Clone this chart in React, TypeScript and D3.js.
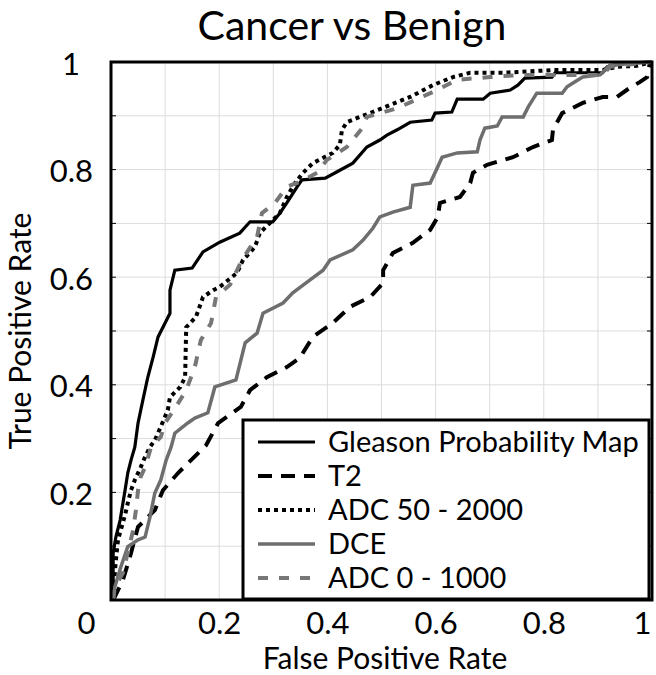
import React, { useEffect, useRef } from 'react';
import * as d3 from 'd3';

// ROC curves, [false positive rate, true positive rate]
const gleason: [number, number][] = [
  [0.002, 0], [0.004, 0.037], [0.004, 0.087], [0.009, 0.117], [0.017, 0.149], [0.022, 0.18],
  [0.026, 0.204], [0.031, 0.236], [0.037, 0.26], [0.044, 0.284], [0.05, 0.329], [0.059, 0.372],
  [0.068, 0.414], [0.078, 0.452], [0.087, 0.489], [0.1, 0.515], [0.109, 0.533], [0.109, 0.576],
  [0.118, 0.613], [0.15, 0.617], [0.17, 0.647], [0.201, 0.665], [0.238, 0.682], [0.257, 0.703],
  [0.299, 0.703], [0.312, 0.719], [0.325, 0.738], [0.344, 0.768], [0.353, 0.781], [0.396, 0.784],
  [0.418, 0.796], [0.447, 0.812], [0.473, 0.842], [0.497, 0.855], [0.51, 0.864], [0.529, 0.874],
  [0.553, 0.888], [0.593, 0.892], [0.599, 0.905], [0.63, 0.907], [0.64, 0.931], [0.688, 0.931],
  [0.701, 0.942], [0.738, 0.948], [0.752, 0.957], [0.765, 0.97], [0.815, 0.972], [0.821, 0.98],
  [0.909, 0.98], [0.917, 0.991], [0.946, 0.998], [1, 1]
];

const t2: [number, number][] = [
  [0.004, 0], [0.007, 0.006], [0.022, 0.037], [0.035, 0.08], [0.05, 0.136], [0.081, 0.167],
  [0.096, 0.204], [0.124, 0.236], [0.148, 0.26], [0.176, 0.288], [0.198, 0.329], [0.24, 0.359],
  [0.257, 0.39], [0.288, 0.414], [0.325, 0.433], [0.349, 0.45], [0.373, 0.489], [0.41, 0.515],
  [0.442, 0.545], [0.479, 0.563], [0.503, 0.589], [0.503, 0.613], [0.521, 0.645], [0.558, 0.664],
  [0.59, 0.688], [0.604, 0.712], [0.608, 0.738], [0.645, 0.749], [0.664, 0.775], [0.669, 0.794],
  [0.695, 0.809], [0.743, 0.823], [0.78, 0.842], [0.815, 0.855], [0.817, 0.874], [0.834, 0.905],
  [0.872, 0.924], [0.909, 0.935], [0.935, 0.935], [0.959, 0.952], [0.978, 0.963], [0.991, 0.972],
  [0.996, 0.998], [1, 1]
];

const adc50: [number, number][] = [
  [0.002, 0], [0.004, 0.013], [0.009, 0.074], [0.013, 0.112], [0.026, 0.158], [0.031, 0.18],
  [0.037, 0.204], [0.044, 0.223], [0.055, 0.247], [0.063, 0.266], [0.072, 0.284], [0.081, 0.297],
  [0.092, 0.322], [0.105, 0.353], [0.109, 0.377], [0.128, 0.396], [0.137, 0.414], [0.139, 0.507],
  [0.157, 0.526], [0.17, 0.563], [0.189, 0.576], [0.201, 0.582], [0.233, 0.608], [0.244, 0.632],
  [0.266, 0.656], [0.275, 0.682], [0.294, 0.701], [0.312, 0.719], [0.325, 0.749], [0.34, 0.775],
  [0.355, 0.794], [0.373, 0.812], [0.41, 0.831], [0.423, 0.846], [0.427, 0.874], [0.436, 0.888],
  [0.455, 0.896], [0.479, 0.905], [0.516, 0.92], [0.553, 0.935], [0.595, 0.957], [0.632, 0.972],
  [0.664, 0.98], [0.725, 0.98], [0.817, 0.985], [0.909, 0.985], [0.935, 0.991], [0.972, 0.993],
  [1, 1]
];

const dce: [number, number][] = [
  [0.004, 0], [0.007, 0.024], [0.018, 0.061], [0.031, 0.099], [0.05, 0.112], [0.063, 0.117],
  [0.072, 0.154], [0.081, 0.199], [0.092, 0.223], [0.102, 0.26], [0.111, 0.284], [0.118, 0.31],
  [0.142, 0.329], [0.155, 0.338], [0.179, 0.348], [0.192, 0.396], [0.231, 0.409], [0.248, 0.478],
  [0.27, 0.496], [0.281, 0.533], [0.318, 0.552], [0.336, 0.571], [0.368, 0.595], [0.392, 0.613],
  [0.405, 0.632], [0.447, 0.651], [0.466, 0.669], [0.484, 0.691], [0.497, 0.712], [0.521, 0.721],
  [0.553, 0.73], [0.558, 0.771], [0.59, 0.775], [0.603, 0.803], [0.612, 0.823], [0.64, 0.831],
  [0.677, 0.833], [0.682, 0.855], [0.691, 0.877], [0.714, 0.881], [0.723, 0.898], [0.762, 0.898],
  [0.771, 0.916], [0.787, 0.942], [0.834, 0.942], [0.843, 0.954], [0.854, 0.961], [0.872, 0.972],
  [0.904, 0.976], [0.922, 0.994], [1, 1]
];

const adc0: [number, number][] = [
  [0.004, 0], [0.007, 0.024], [0.022, 0.05], [0.041, 0.13], [0.046, 0.167], [0.05, 0.204],
  [0.055, 0.229], [0.063, 0.247], [0.074, 0.284], [0.092, 0.303], [0.1, 0.329], [0.12, 0.359],
  [0.139, 0.39], [0.155, 0.433], [0.166, 0.483], [0.185, 0.515], [0.194, 0.563], [0.22, 0.586],
  [0.242, 0.632], [0.27, 0.675], [0.279, 0.719], [0.303, 0.738], [0.325, 0.768], [0.349, 0.777],
  [0.381, 0.794], [0.399, 0.818], [0.436, 0.842], [0.466, 0.879], [0.473, 0.898], [0.497, 0.905],
  [0.529, 0.914], [0.603, 0.948], [0.64, 0.967], [0.701, 0.972], [0.756, 0.976], [0.909, 0.976],
  [0.922, 0.991], [1, 1]
];

const seriesNames = ['Gleason Probability Map', 'T2', 'ADC 50 - 2000', 'DCE', 'ADC 0 - 1000'];
const seriesData = [gleason, t2, adc50, dce, adc0];
const seriesColors = ['#000', '#000', '#000', '#6e6e6e', '#777'];
const seriesDash = ['none', '14 9', '4 4', 'none', '10 11'];
const seriesWidth = [3.2, 4, 4, 3.5, 4];

const xTicks = [0, 0.2, 0.4, 0.6, 0.8, 1];
const yTicks = [0.2, 0.4, 0.6, 0.8, 1];
const gridTicks = d3.range(0, 1.01, 0.1);

const FONT = 'Lato, "Open Sans", sans-serif';

export default function App() {
  const ref = useRef<SVGSVGElement>(null);

  useEffect(() => {
    const width = 656;
    const height = 675;
    const left = 111, right = 652, top = 62, bottom = 600;

    const svg = d3.select(ref.current);
    svg.selectAll('*').remove();
    svg.attr('width', width).attr('height', height);

    const x = d3.scaleLinear().domain([0, 1]).range([left, right]);
    const y = d3.scaleLinear().domain([0, 1]).range([bottom, top]);

    svg.append('rect').attr('width', width).attr('height', height).attr('fill', '#fff');

    // grid
    const grid = svg.append('g').attr('stroke', '#dcdcdc').attr('stroke-width', 1);
    grid.selectAll('.gx').data(gridTicks).enter().append('line')
      .attr('x1', d => x(d)).attr('x2', d => x(d))
      .attr('y1', top).attr('y2', bottom);
    grid.selectAll('.gy').data(gridTicks).enter().append('line')
      .attr('y1', d => y(d)).attr('y2', d => y(d))
      .attr('x1', left).attr('x2', right);

    // small inner ticks
    const ticks = svg.append('g').attr('stroke', '#000').attr('stroke-width', 1);
    ticks.selectAll('.tl').data(gridTicks).enter().append('line')
      .attr('x1', left).attr('x2', left + 5)
      .attr('y1', d => y(d)).attr('y2', d => y(d));
    ticks.selectAll('.tr').data(gridTicks).enter().append('line')
      .attr('x1', right - 5).attr('x2', right)
      .attr('y1', d => y(d)).attr('y2', d => y(d));

    const line = d3.line<[number, number]>()
      .x(d => x(d[0]))
      .y(d => y(d[1]));

    seriesData.forEach((data, i) => {
      svg.append('path')
        .datum(data)
        .attr('d', line)
        .attr('fill', 'none')
        .attr('stroke', seriesColors[i])
        .attr('stroke-width', seriesWidth[i])
        .attr('stroke-dasharray', seriesDash[i])
        .attr('stroke-linejoin', 'miter');
    });

    // plot frame
    svg.append('rect')
      .attr('x', left).attr('y', top)
      .attr('width', right - left).attr('height', bottom - top)
      .attr('fill', 'none').attr('stroke', '#000').attr('stroke-width', 3);

    // axes
    const xAxis = d3.axisBottom(x).tickValues(xTicks).tickSize(0).tickPadding(0)
      .tickFormat(d => d3.format('~g')(d as number));
    const gx = svg.append('g').attr('transform', `translate(0, ${bottom})`).call(xAxis);
    gx.select('.domain').remove();
    gx.selectAll('text')
      .attr('font-family', FONT).attr('font-size', 31).attr('fill', '#000')
      .attr('y', 34).attr('dy', 0)
      .attr('dx', (d: any) => d === 0 ? -25 : d === 1 ? -10 : 0);

    const yAxis = d3.axisLeft(y).tickValues(yTicks).tickSize(0).tickPadding(18)
      .tickFormat(d => d3.format('~g')(d as number));
    const gy = svg.append('g').attr('transform', `translate(${left}, 0)`).call(yAxis);
    gy.select('.domain').remove();
    gy.selectAll('text')
      .attr('font-family', FONT).attr('font-size', 31).attr('fill', '#000')
      .attr('dy', 12)
      .attr('dx', (d: any) => d === 1 ? -13 : 0);

    svg.append('text')
      .attr('x', 385).attr('y', 669)
      .attr('text-anchor', 'middle')
      .attr('font-family', FONT).attr('font-size', 30)
      .text('False Positive Rate');

    svg.append('text')
      .attr('transform', `translate(31, ${(top + bottom) / 2}) rotate(-90)`)
      .attr('text-anchor', 'middle')
      .attr('font-family', FONT).attr('font-size', 30)
      .text('True Positive Rate');

    svg.append('text')
      .attr('x', 352).attr('y', 40)
      .attr('text-anchor', 'middle')
      .attr('font-family', FONT).attr('font-size', 41)
      .text('Cancer vs Benign');

    // legend
    const lg = svg.append('g');
    lg.append('rect')
      .attr('x', 243).attr('y', 420).attr('width', 406).attr('height', 179)
      .attr('fill', '#fff').attr('stroke', '#000').attr('stroke-width', 3);
    const rows = lg.selectAll('.row').data(seriesNames).enter().append('g')
      .attr('transform', (d, i) => `translate(0, ${442 + i * 34})`);
    rows.append('line')
      .attr('x1', 258).attr('x2', 315).attr('y1', 0).attr('y2', 0)
      .attr('stroke', (d, i) => seriesColors[i])
      .attr('stroke-width', (d, i) => seriesWidth[i])
      .attr('stroke-dasharray', (d, i) => seriesDash[i]);
    rows.append('text')
      .attr('x', 328).attr('y', 10)
      .attr('font-family', FONT).attr('font-size', 29)
      .text(d => d);
  }, []);

  return (
    <svg ref={ref} style={{ position: 'absolute', left: 0, top: 0 }}></svg>
  );
}
